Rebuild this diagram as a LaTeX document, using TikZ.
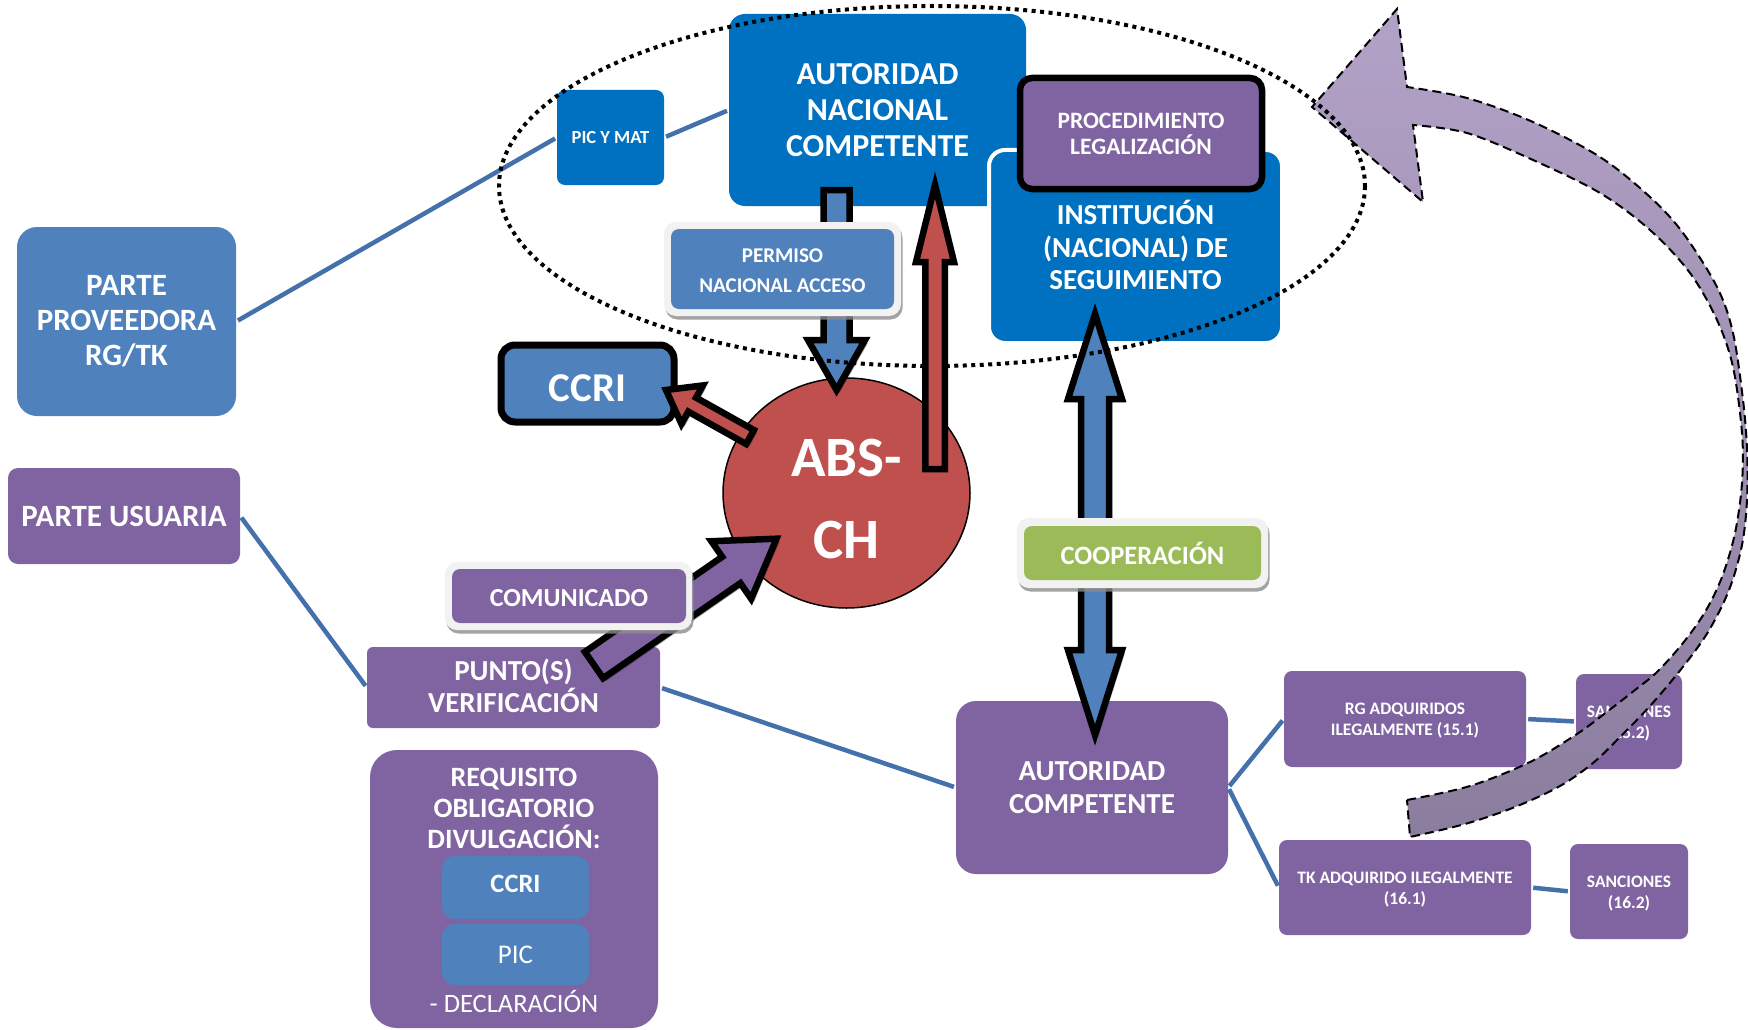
\documentclass[tikz,border=0pt]{standalone}
\usepackage{fontspec}
\setmainfont{Carlito}
\usetikzlibrary{calc,shadows,shapes.geometric}
\definecolor{dblue}{HTML}{0070C0}
\definecolor{mblue}{HTML}{4F81BD}
\definecolor{purp}{HTML}{8064A2}
\definecolor{redc}{HTML}{C0504D}
\definecolor{greenc}{HTML}{9BBB59}
\definecolor{linec}{HTML}{4470AC}
\definecolor{framec}{HTML}{F2F2F2}
\definecolor{curvtop}{HTML}{B3A2C7}
\definecolor{curvbot}{HTML}{8B7D9E}
\newcommand{\fsz}[2]{\fontsize{#1}{#2}\selectfont}
\newcommand{\blockarr}[6]{%
  \coordinate (ba-hb) at ($(#3)!#6!(#2)$);
  \draw[#1] ($(#2)!#4!90:(#3)$) -- ($(ba-hb)!#4!90:(#3)$) -- ($(ba-hb)!#5!90:(#3)$) -- (#3)
    -- ($(ba-hb)!#5!-90:(#3)$) -- ($(ba-hb)!#4!-90:(#3)$) -- ($(#2)!#4!-90:(#3)$) -- cycle;
}
\newcommand{\dblarr}[6]{%
  \coordinate (da-h1) at ($(#2)!#6!(#3)$);
  \coordinate (da-h2) at ($(#3)!#6!(#2)$);
  \draw[#1] (#2) -- ($(da-h1)!#5!90:(#3)$) -- ($(da-h1)!#4!90:(#3)$) -- ($(da-h2)!#4!-90:(#2)$)
    -- ($(da-h2)!#5!-90:(#2)$) -- (#3) -- ($(da-h2)!#5!90:(#2)$) -- ($(da-h2)!#4!90:(#2)$)
    -- ($(da-h1)!#4!-90:(#3)$) -- ($(da-h1)!#5!-90:(#3)$) -- cycle;
}
\begin{document}
\begin{tikzpicture}[x=1pt,y=-1pt,
  box/.style={rectangle, rounded corners=#1, inner sep=0pt, align=center, text=white},
  box/.default=10pt,
  conn/.style={draw=linec, line width=4.5pt, shorten <=2pt, shorten >=2pt},
  barr/.style={draw=black, line width=6.5pt, line join=miter, miter limit=10,
    drop shadow={shadow xshift=3pt, shadow yshift=-3pt, fill=black, opacity=0.3}},
  frame/.style={rectangle, rounded corners=12pt, fill=framec, inner sep=0pt,
    drop shadow={shadow xshift=1.5pt, shadow yshift=-3.5pt, fill=black!45, opacity=0.8}},
  txt/.style={text=white, align=center, inner sep=0pt}
]
\useasboundingbox (0,0) rectangle (1748,1030);
\fill[white] (0,0) rectangle (1748,1030);

% circle
\node[ellipse, fill=redc, draw=black, line width=1.5pt, minimum width=247pt, minimum height=230pt, inner sep=0pt] (abs) at (846.5,493) {};
\node[txt, font=\bfseries\fsz{57}{82}] (abstxt) at (846.5,499.5) {ABS-\\CH};

% boxes
\node[box=20pt, fill=mblue, minimum width=219pt, minimum height=189pt, font=\bfseries\fsz{31}{35}] (pprov) at (126.5,321.5) {PARTE\\PROVEEDORA\\RG/TK};
\node[box=10pt, fill=purp, minimum width=232pt, minimum height=96pt, font=\bfseries\fsz{31}{35}] (pusu) at (124,516) {PARTE USUARIA};
\node[box=8pt, fill=dblue, minimum width=107pt, minimum height=95pt, font=\bfseries\fsz{18.5}{22}] (picmat) at (610.5,137.5) {PIC Y MAT};
\node[box=16pt, fill=dblue, minimum width=297pt, minimum height=192pt, font=\bfseries\fsz{32}{35.7}] (anc) at (877.5,110) {AUTORIDAD\\NACIONAL\\COMPETENTE};
\node[box=16pt, fill=dblue, draw=white, line width=4pt, minimum width=293pt, minimum height=193pt] (inst) at (1135.5,246.5) {};
\node[txt, font=\bfseries\fsz{29}{32.5}] (insttxt) at (1135.5,245) {INSTITUCIÓN\\(NACIONAL) DE\\SEGUIMIENTO};
\node[box=12pt, fill=purp, draw=black, line width=6.5pt, minimum width=242pt, minimum height=111pt, font=\bfseries\fsz{23.5}{26}] (proc) at (1141,133.5) {PROCEDIMIENTO\\LEGALIZACIÓN};
\node[box=14pt, fill=mblue, draw=black, line width=7pt, minimum width=173pt, minimum height=77pt] (ccri) at (587.5,383.5) {};
\node[txt, font=\bfseries\fsz{41}{45}] (ccritxt) at (587.5,388) {CCRI};
\node[box=6pt, fill=purp, minimum width=293pt, minimum height=81pt] (punto) at (513.5,687.5) {};
\node[txt, font=\bfseries\fsz{29}{32.3}] (puntotxt) at (513.5,686) {PUNTO(S)\\VERIFICACIÓN};
\node[box=27pt, fill=purp, minimum width=288pt, minimum height=278pt] (req) at (514,889) {};
\node[txt, font=\bfseries\fsz{28}{31}] (reqtxt) at (514,808.5) {REQUISITO\\OBLIGATORIO\\DIVULGACIÓN:};
\node[box=12pt, fill=mblue, minimum width=147pt, minimum height=63pt] (rccri) at (515.5,887.5) {};
\node[txt, font=\bfseries\fsz{26.5}{30}] (rccritxt) at (515.5,884) {CCRI};
\node[box=12pt, fill=mblue, minimum width=147pt, minimum height=61pt, font=\fsz{27}{30}] (rpic) at (515.5,954.5) {PIC};
\node[txt, font=\fsz{26.5}{30}] (decl) at (514,1002) {- DECLARACIÓN};
\node[box=20pt, fill=purp, minimum width=272pt, minimum height=173pt, font=\bfseries\fsz{29}{33}] (ac) at (1092,787.5) {AUTORIDAD\\COMPETENTE};
\node[box=8pt, fill=purp, minimum width=242pt, minimum height=96pt] (rg) at (1405,719) {};
\node[txt, font=\bfseries\fsz{17.5}{21}] (rgtxt) at (1405,721) {RG ADQUIRIDOS\\ILEGALMENTE (15.1)};
\node[box=8pt, fill=purp, minimum width=106pt, minimum height=95pt] (s15) at (1629,721.5) {};
\node[txt, font=\bfseries\fsz{17.5}{21}] (s15txt) at (1629,723.5) {SANCIONES\\(15.2)};
\node[box=8pt, fill=purp, minimum width=252pt, minimum height=95pt] (tk) at (1405,887.5) {};
\node[txt, font=\bfseries\fsz{17.5}{21}] (tktxt) at (1405,890) {TK ADQUIRIDO ILEGALMENTE\\(16.1)};
\node[box=8pt, fill=purp, minimum width=118pt, minimum height=95pt] (s16) at (1629,891.5) {};
\node[txt, font=\bfseries\fsz{17.5}{21}] (s16txt) at (1629,893.5) {SANCIONES\\(16.2)};

% connectors
\draw[conn] (pprov.east) -- (picmat.west);
\draw[conn] (picmat.east) -- (anc.west);
\draw[conn] (pusu.east) -- (punto.west);
\draw[conn] (punto.east) -- (ac.west);
\draw[conn] (ac.east) -- (rg.west);
\draw[conn] (ac.east) -- (tk.west);
\draw[conn] (rg.east) -- (s15.west);
\draw[conn] (tk.east) -- (s16.west);

% blue down arrow + permiso
\coordinate (bd-t) at (836.5,190);
\coordinate (bd-h) at (836.5,390);
\blockarr{barr, fill=mblue}{bd-t}{bd-h}{13pt}{28.5pt}{50pt}
\node[frame, minimum width=237pt, minimum height=94pt] (permf) at (782.5,269) {};
\node[box=8pt, fill=mblue, minimum width=223pt, minimum height=80pt] (perm) at (782.5,269) {};
\node[txt, font=\bfseries\fsz{21}{30}] (permtxt) at (782.5,271) {PERMISO\\NACIONAL ACCESO};

% double arrow + cooperacion
\coordinate (da-t) at (1095,314);
\coordinate (da-b) at (1095,735);
\dblarr{barr, fill=mblue}{da-t}{da-b}{14pt}{27pt}{85pt}
\node[frame, minimum width=251pt, minimum height=70pt] (coopf) at (1142.5,553) {};
\node[box=8pt, fill=greenc, minimum width=237pt, minimum height=54pt, font=\bfseries\fsz{26.5}{30}] (coop) at (1142.5,553) {COOPERACIÓN};

% curved arrow
\draw[line width=2pt, dash pattern=on 9pt off 5pt, top color=curvtop, bottom color=curvbot, line join=miter]
 plot[smooth, tension=0.55] coordinates {(1407,800) (1470,786) (1530,762) (1577,734) (1608,711) (1635,690) (1657,672) (1683,643) (1705,612) (1722,577) (1735,533) (1742,483) (1742,433) (1733,367) (1717,320) (1690,273) (1650,230) (1600,193) (1533,160) (1467,133) (1413,125)}
 -- (1423,202) -- (1312,107) -- (1397,9) -- (1407,87)
 -- plot[smooth, tension=0.55] coordinates {(1407,87) (1467,98) (1533,122) (1600,157) (1650,197) (1683,233) (1717,287) (1733,333) (1743,400) (1747,450) (1747,500) (1742,545) (1729,590) (1708,632) (1682,668) (1650,706) (1620,737) (1593,763) (1560,786) (1515,807) (1465,824) (1410,837)}
 -- cycle;

% dotted ellipse
\draw[line width=4pt, dash pattern=on 4pt off 4.5pt] (932,186) ellipse [x radius=433, y radius=180];

% red arrows
\coordinate (ru-t) at (935,469);
\coordinate (ru-h) at (935,185);
\blockarr{barr, fill=redc}{ru-t}{ru-h}{9.75pt}{19pt}{77pt}
\coordinate (rc-t) at (750,437);
\coordinate (rc-h) at (666,390);
\blockarr{barr, fill=redc}{rc-t}{rc-h}{8pt}{22pt}{30pt}

% purple arrow + comunicado
\coordinate (pa-t) at (594,665);
\coordinate (pa-h) at (776.5,538.7);
\blockarr{barr, fill=purp}{pa-t}{pa-h}{16pt}{35pt}{55pt}
\node[frame, minimum width=247pt, minimum height=68pt] (comf) at (568.5,596) {};
\node[box=8pt, fill=purp, minimum width=234pt, minimum height=54pt] (comun) at (569,596) {};
\node[txt, font=\bfseries\fsz{26}{30}] (comuntxt) at (569,598) {COMUNICADO};
\end{tikzpicture}
\end{document}
